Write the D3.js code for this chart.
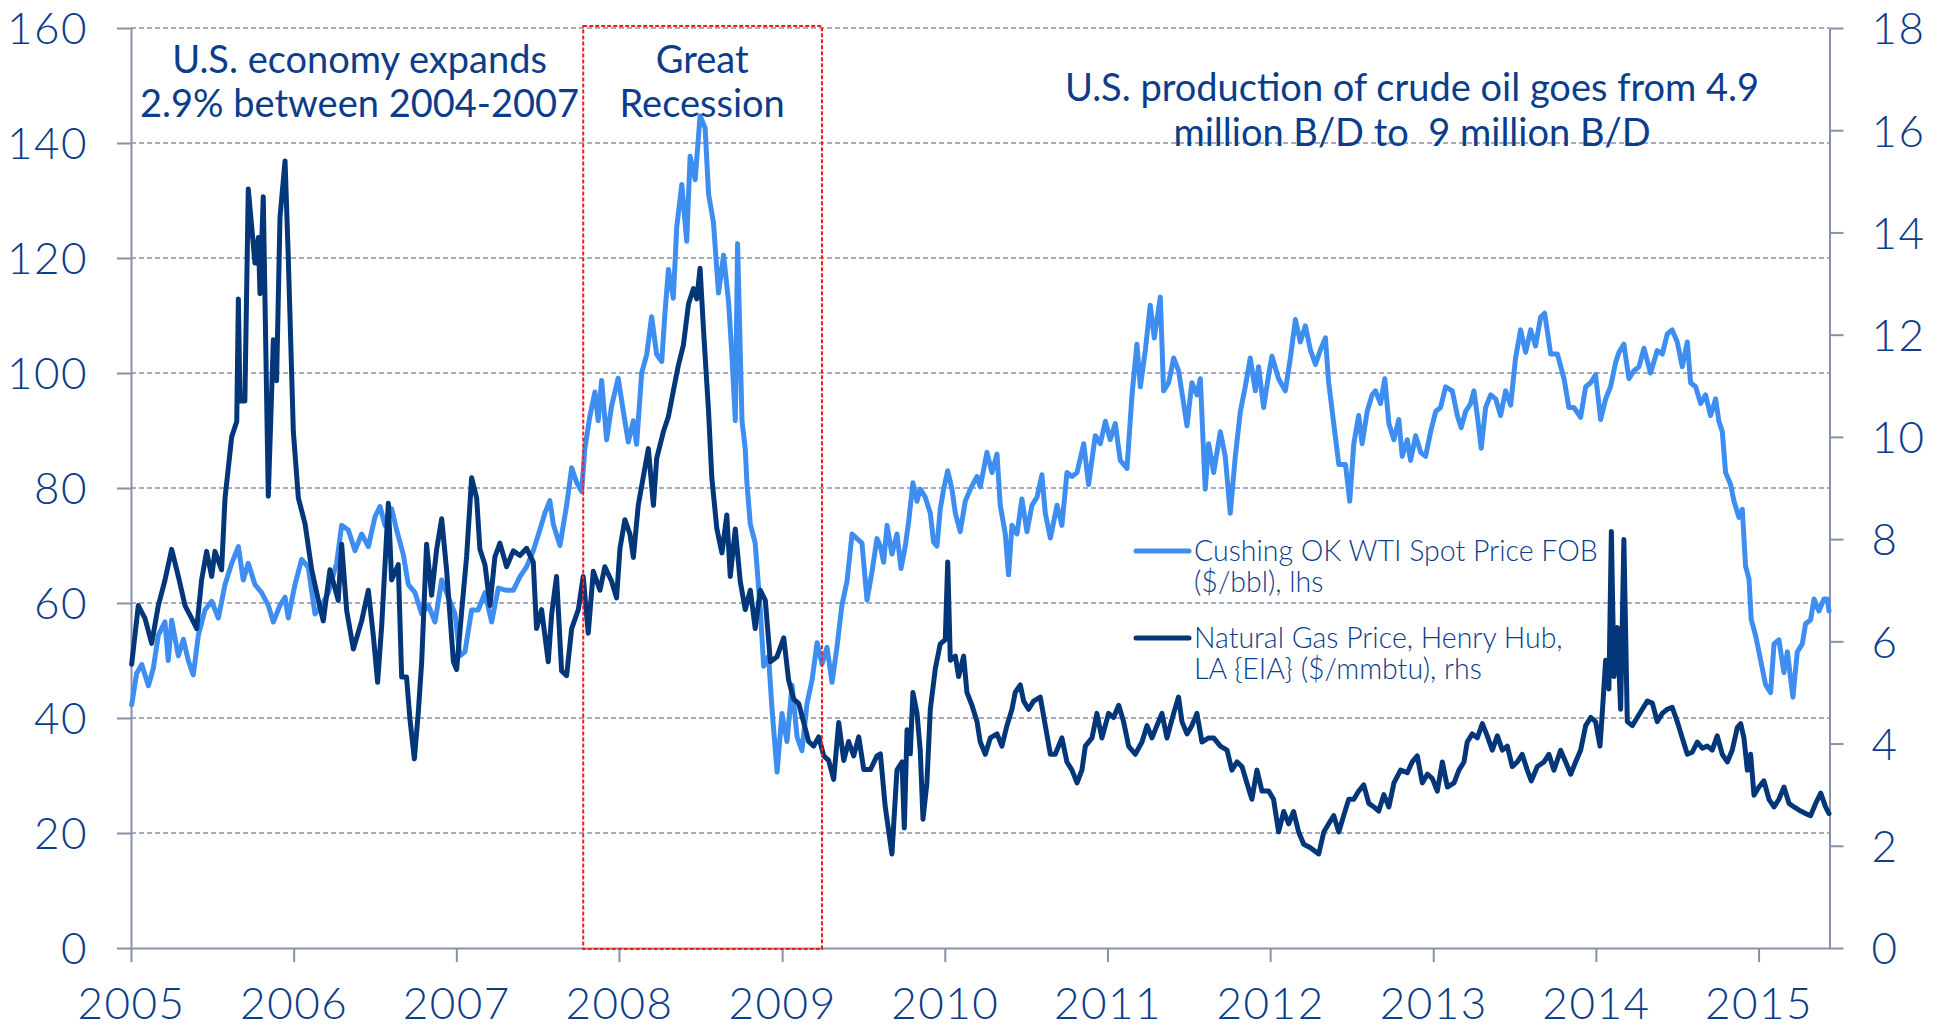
<!DOCTYPE html>
<html>
<head>
<meta charset="utf-8">
<script src="https://cdn.jsdelivr.net/npm/d3@7/dist/d3.min.js"></script>
<style>
  html, body { margin: 0; padding: 0; background: #fff; }
  svg { display: block; }
  text { font-family: Lato, "Open Sans", sans-serif; white-space: pre; }
</style>
</head>
<body>
<svg id="chart" width="1936" height="1026"></svg>
<script>
// WTI spot price, $/bbl (left axis), decimal years
var wtiYears = [2005.004,2005.035,2005.066,2005.107,2005.137,2005.168,2005.209,2005.229,2005.250,2005.291,2005.322,2005.352,2005.383,2005.414,2005.455,2005.496,2005.537,2005.578,2005.619,2005.660,2005.690,2005.721,2005.762,2005.803,2005.844,2005.875,2005.916,2005.947,2005.967,
  2006.008,2006.049,2006.090,2006.131,2006.172,2006.213,2006.264,2006.295,2006.336,2006.377,2006.418,2006.459,2006.500,2006.531,2006.561,2006.602,2006.633,2006.674,2006.705,2006.746,2006.787,2006.828,2006.869,2006.910,2006.951,2006.992,
  2007.022,2007.053,2007.094,2007.135,2007.176,2007.217,2007.258,2007.309,2007.350,2007.391,2007.432,2007.473,2007.514,2007.545,2007.575,2007.596,2007.637,2007.678,2007.709,2007.739,2007.770,2007.790,2007.821,2007.852,2007.872,2007.893,2007.924,2007.954,2007.995,
  2008.026,2008.057,2008.088,2008.108,2008.139,2008.170,2008.200,2008.231,2008.262,2008.282,2008.303,2008.333,2008.354,2008.385,2008.415,2008.436,2008.467,2008.497,2008.528,2008.549,2008.579,2008.610,2008.641,2008.672,2008.692,2008.713,2008.727,2008.754,2008.774,2008.784,2008.805,2008.835,2008.866,2008.887,2008.917,2008.938,2008.969,2008.999,
  2009.030,2009.061,2009.092,2009.122,2009.153,2009.184,2009.215,2009.245,2009.276,2009.307,2009.337,2009.368,2009.399,2009.430,2009.460,2009.491,2009.522,2009.553,2009.583,2009.604,2009.624,2009.645,2009.675,2009.706,2009.731,2009.757,2009.778,2009.804,2009.829,2009.849,2009.880,2009.911,2009.931,2009.952,2009.972,2009.993,
  2010.018,2010.044,2010.065,2010.095,2010.126,2010.157,2010.198,2010.218,2010.259,2010.290,2010.321,2010.341,2010.372,2010.392,2010.413,2010.444,2010.474,2010.505,2010.536,2010.567,2010.597,2010.618,2010.649,2010.690,2010.720,2010.751,2010.782,2010.813,2010.854,2010.884,2010.925,2010.956,2010.987,
  2011.017,2011.048,2011.079,2011.120,2011.151,2011.181,2011.202,2011.233,2011.263,2011.288,2011.325,2011.345,2011.376,2011.407,2011.437,2011.468,2011.489,2011.519,2011.550,2011.571,2011.601,2011.622,2011.653,2011.694,2011.724,2011.755,2011.786,2011.817,2011.847,2011.878,2011.909,2011.929,2011.960,2011.991,
  2012.011,2012.052,2012.093,2012.124,2012.155,2012.185,2012.216,2012.247,2012.278,2012.308,2012.339,2012.359,2012.390,2012.421,2012.462,2012.488,2012.513,2012.543,2012.564,2012.595,2012.625,2012.646,2012.677,2012.703,2012.728,2012.759,2012.789,2012.810,2012.841,2012.861,2012.892,2012.923,2012.953,2012.984,
  2013.015,2013.045,2013.076,2013.117,2013.148,2013.172,2013.199,2013.230,2013.250,2013.271,2013.295,2013.322,2013.353,2013.384,2013.414,2013.445,2013.476,2013.506,2013.537,2013.568,2013.599,2013.629,2013.660,2013.685,2013.722,2013.763,2013.804,2013.834,2013.865,2013.906,2013.937,2013.968,2013.998,
  2014.029,2014.060,2014.090,2014.121,2014.142,2014.172,2014.203,2014.234,2014.265,2014.295,2014.336,2014.377,2014.408,2014.439,2014.469,2014.500,2014.531,2014.562,2014.582,2014.613,2014.644,2014.674,2014.705,2014.736,2014.756,2014.777,2014.797,2014.828,2014.849,2014.879,2014.900,2014.920,2014.941,2014.955,2014.982,
  2015.013,2015.043,2015.074,2015.095,2015.125,2015.156,2015.177,2015.211,2015.238,2015.269,2015.289,2015.320,2015.341,2015.371,2015.402,2015.422,2015.433];
var wtiPrice = [42.3,47.8,49.3,45.6,48.6,54.4,56.7,50.0,57.0,50.8,53.7,50.0,47.5,54.4,58.8,60.3,57.4,63.2,66.9,69.8,64.0,66.9,63.2,61.8,59.6,56.7,59.6,61.0,57.4,
  63.2,67.6,66.2,58.1,59.6,61.8,66.9,73.5,72.7,69.1,72.0,69.8,75.0,76.8,73.5,76.4,72.7,68.4,63.2,61.8,58.1,59.6,56.7,64.0,61.0,58.1,
  50.8,51.5,58.8,58.8,61.8,56.7,62.6,62.2,62.2,64.6,66.3,69.1,72.8,75.7,77.8,73.7,70.0,77.0,83.5,81.0,79.4,86.8,92.5,96.7,91.7,98.7,88.4,94.2,99.1,
  93.4,88.0,91.7,87.6,100.0,103.2,109.8,103.2,102.0,110.6,118.0,113.0,125.4,132.8,122.9,137.7,133.6,144.7,142.6,131.1,126.2,113.9,120.5,112.3,103.2,91.7,122.5,91.7,86.8,81.0,73.7,70.4,58.9,49.0,50.7,41.6,30.6,40.8,
  35.9,45.7,36.7,34.3,42.5,46.6,53.1,49.4,52.3,46.2,52.3,59.7,63.8,72.0,71.2,70.4,60.5,65.5,71.2,69.9,67.1,73.5,68.5,72.0,66.0,69.9,74.2,80.9,77.7,79.8,78.4,75.6,70.6,69.9,76.3,79.8,
  83.0,79.8,75.6,72.4,77.7,79.8,82.0,80.2,86.2,82.7,85.9,77.0,72.0,64.9,73.5,72.0,78.1,72.4,77.0,78.4,82.3,75.6,71.3,77.0,73.5,82.7,82.0,82.7,87.7,80.6,89.1,87.7,91.6,
  88.4,91.2,84.8,83.4,96.2,105.0,97.6,104.0,111.8,106.1,113.2,96.9,98.3,102.6,100.4,94.7,90.8,98.3,96.2,99.0,79.8,87.7,82.7,89.8,85.5,75.6,85.5,93.3,97.6,102.6,96.9,101.1,94.0,99.7,
  102.9,99.0,96.9,102.6,109.3,105.4,108.2,104.0,101.5,104.0,106.1,98.3,91.2,84.1,84.1,77.7,87.7,92.6,87.7,93.3,96.2,96.9,94.7,99.0,91.2,88.4,91.9,85.5,88.4,84.8,89.1,86.2,85.5,89.8,
  93.3,94.0,97.6,96.9,92.6,90.5,93.3,94.7,96.9,92.6,86.9,94.0,96.2,95.5,92.6,96.9,94.4,102.6,107.5,103.6,107.5,104.7,109.7,110.4,103.3,103.3,99.0,94.0,94.0,92.3,97.6,98.3,99.7,
  91.9,95.5,97.6,101.8,103.6,105.0,99.0,100.4,101.1,104.3,100.0,103.9,103.3,106.8,107.5,105.4,101.1,105.4,98.3,97.6,94.7,96.2,92.6,95.5,91.6,89.8,82.7,80.6,77.7,74.9,76.3,66.4,64.2,57.1,54.3,
  50.0,45.8,44.4,52.9,53.6,47.9,51.5,43.6,51.5,52.9,56.4,57.1,60.7,58.6,60.7,60.7,58.6];

// Henry Hub natural gas price, $/mmbtu (right axis), decimal years
var gasYears = [2005.004,2005.045,2005.086,2005.127,2005.168,2005.209,2005.250,2005.291,2005.332,2005.373,2005.404,2005.434,2005.465,2005.496,2005.516,2005.557,2005.578,2005.619,2005.650,2005.660,2005.670,2005.700,2005.721,2005.762,2005.783,2005.793,2005.813,2005.844,2005.875,2005.895,2005.916,2005.947,2005.967,2005.998,
  2006.029,2006.070,2006.111,2006.152,2006.182,2006.223,2006.274,2006.295,2006.326,2006.367,2006.418,2006.459,2006.490,2006.516,2006.541,2006.582,2006.602,2006.643,2006.664,2006.694,2006.715,2006.742,2006.766,2006.787,2006.817,2006.848,2006.879,2006.910,2006.940,2006.982,
  2007.002,2007.033,2007.063,2007.094,2007.125,2007.145,2007.176,2007.207,2007.237,2007.268,2007.309,2007.350,2007.391,2007.432,2007.473,2007.493,2007.524,2007.565,2007.586,2007.616,2007.647,2007.678,2007.709,2007.750,2007.780,2007.811,2007.842,2007.883,2007.913,2007.954,2007.985,
  2008.006,2008.036,2008.067,2008.088,2008.118,2008.149,2008.180,2008.211,2008.231,2008.272,2008.303,2008.333,2008.364,2008.395,2008.426,2008.456,2008.477,2008.497,2008.518,2008.549,2008.569,2008.600,2008.631,2008.661,2008.682,2008.713,2008.743,2008.774,2008.805,2008.835,2008.866,2008.897,2008.928,2008.969,
  2009.010,2009.040,2009.071,2009.102,2009.133,2009.163,2009.194,2009.225,2009.256,2009.286,2009.317,2009.348,2009.379,2009.409,2009.440,2009.471,2009.502,2009.543,2009.583,2009.604,2009.634,2009.675,2009.706,2009.737,2009.751,2009.768,2009.788,2009.804,2009.829,2009.849,2009.866,2009.890,2009.911,2009.942,2009.972,
  2010.003,2010.018,2010.034,2010.065,2010.085,2010.116,2010.136,2010.167,2010.198,2010.218,2010.249,2010.280,2010.321,2010.351,2010.382,2010.413,2010.433,2010.464,2010.485,2010.515,2010.546,2010.587,2010.618,2010.649,2010.679,2010.720,2010.751,2010.782,2010.813,2010.843,2010.864,2010.905,2010.935,2010.966,
  2011.007,2011.038,2011.069,2011.099,2011.130,2011.171,2011.212,2011.243,2011.274,2011.304,2011.335,2011.366,2011.407,2011.437,2011.458,2011.489,2011.519,2011.550,2011.581,2011.622,2011.653,2011.694,2011.735,2011.765,2011.796,2011.827,2011.857,2011.888,2011.919,2011.950,2011.991,
  2012.021,2012.052,2012.083,2012.114,2012.144,2012.175,2012.206,2012.247,2012.298,2012.329,2012.359,2012.390,2012.421,2012.451,2012.482,2012.513,2012.543,2012.574,2012.605,2012.636,2012.666,2012.697,2012.728,2012.759,2012.800,2012.841,2012.871,2012.902,2012.933,2012.964,2012.994,
  2013.025,2013.056,2013.087,2013.128,2013.158,2013.189,2013.209,2013.240,2013.271,2013.302,2013.332,2013.363,2013.394,2013.425,2013.455,2013.486,2013.517,2013.547,2013.578,2013.603,2013.640,2013.681,2013.711,2013.742,2013.783,2013.814,2013.845,2013.875,2013.906,2013.937,2013.968,2013.998,
  2014.025,2014.039,2014.060,2014.080,2014.095,2014.111,2014.131,2014.152,2014.172,2014.193,2014.224,2014.254,2014.285,2014.316,2014.347,2014.377,2014.408,2014.439,2014.469,2014.500,2014.531,2014.562,2014.592,2014.623,2014.654,2014.685,2014.715,2014.746,2014.777,2014.808,2014.838,2014.869,2014.890,2014.910,2014.931,2014.951,2014.972,
  2015.002,2015.033,2015.064,2015.095,2015.125,2015.156,2015.187,2015.218,2015.259,2015.289,2015.320,2015.351,2015.382,2015.412,2015.433];
var gasPrice = [5.55,6.70,6.45,5.96,6.70,7.20,7.80,7.27,6.70,6.45,6.25,7.20,7.76,7.27,7.76,7.40,8.80,10.00,10.30,12.70,10.70,10.70,14.85,13.40,13.90,12.80,14.70,8.84,11.90,11.10,14.30,15.40,13.50,10.10,
  8.80,8.30,7.40,6.80,6.40,7.40,6.80,7.90,6.60,5.85,6.40,7.00,6.10,5.20,6.30,8.70,7.20,7.50,5.30,5.30,4.47,3.70,4.60,5.60,7.90,6.90,7.80,8.40,7.40,5.60,
  5.45,6.60,7.65,9.20,8.80,7.80,7.50,6.70,7.65,7.92,7.46,7.77,7.68,7.82,7.55,6.25,6.62,5.60,6.53,7.27,5.42,5.33,6.25,6.62,7.27,6.16,7.37,7.00,7.46,7.18,6.85,
  7.82,8.38,8.10,7.64,8.66,9.22,9.77,8.66,9.58,10.10,10.40,10.90,11.40,11.80,12.60,12.90,12.70,13.30,12.10,10.50,9.20,8.20,7.73,8.47,7.27,8.20,7.18,6.62,7.00,6.25,7.00,6.80,5.60,5.70,
  6.07,5.24,4.87,4.78,4.41,4.04,3.95,4.13,3.76,3.67,3.30,4.41,3.67,4.04,3.76,4.13,3.49,3.49,3.76,3.80,2.76,1.84,3.48,3.64,2.35,4.27,3.80,5.00,4.60,3.87,2.52,3.23,4.67,5.47,5.95,
  6.03,7.55,5.63,5.71,5.31,5.71,5.00,4.75,4.43,4.03,3.79,4.11,4.19,3.95,4.35,4.67,5.00,5.15,4.83,4.67,4.83,4.91,4.35,3.79,3.79,4.11,3.64,3.48,3.23,3.48,3.95,4.11,4.59,4.11,
  4.59,4.51,4.75,4.43,3.95,3.79,4.03,4.35,4.11,4.35,4.59,4.11,4.59,4.91,4.43,4.19,4.35,4.59,4.03,4.11,4.11,3.95,3.87,3.48,3.64,3.55,3.23,2.91,3.48,3.07,3.07,
  2.91,2.27,2.67,2.43,2.67,2.27,2.03,1.96,1.84,2.27,2.43,2.59,2.27,2.59,2.91,2.91,3.07,3.19,2.83,2.76,2.68,3.00,2.76,3.23,3.48,3.43,3.64,3.76,3.23,3.40,3.32,
  3.07,3.64,3.15,3.23,3.48,3.64,4.03,4.19,4.11,4.39,4.15,3.87,4.15,3.87,3.95,3.55,3.64,3.79,3.48,3.27,3.55,3.64,3.79,3.48,3.87,3.64,3.40,3.64,3.87,4.35,4.51,4.43,
  3.95,4.59,5.63,5.07,8.15,5.31,6.27,4.67,7.99,4.43,4.35,4.51,4.67,4.83,4.79,4.43,4.59,4.67,4.71,4.43,4.11,3.79,3.83,4.03,3.91,3.95,3.87,4.15,3.79,3.64,3.87,4.31,4.39,4.11,3.48,3.79,2.99,
  3.15,3.27,2.91,2.76,2.91,3.15,2.83,2.76,2.68,2.63,2.59,2.83,3.03,2.76,2.63];

var leftTicks = [0, 20, 40, 60, 80, 100, 120, 140, 160];
var rightTicks = [0, 2, 4, 6, 8, 10, 12, 14, 16, 18];
var xStart = 2005, xEnd = 2015.436;
var recession = [2007.78, 2009.245];

var seriesNames = ["Cushing OK WTI Spot Price FOB", "($/bbl), lhs"];
var seriesNames2 = ["Natural Gas Price, Henry Hub,", "LA {EIA} ($/mmbtu), rhs"];
var notes = [
  {lines: ["U.S. economy expands", "2.9% between 2004-2007"], at: 2006.405},
  {lines: ["Great", "Recession"], at: 2008.51},
  {lines: ["U.S. production of crude oil goes from 4.9", "million B/D to  9 million B/D"], at: 2012.87}
];

var lightBlue = "#3d8ef0", navy = "#04367a", textCol = "#0c3d8a", axisCol = "#8a90a9";

function toDate(t) {
  var y = Math.floor(t);
  var a = Date.UTC(y, 0, 1), b = Date.UTC(y + 1, 0, 1);
  return new Date(a + (t - y) * (b - a));
}

var plotL = 131, plotR = 1829.5, plotT = 28, plotB = 948;
var svg = d3.select("#chart");

var x = d3.scaleUtc().domain([toDate(xStart), toDate(xEnd)]).range([plotL, plotR]);
var yL = d3.scaleLinear().domain([0, 160]).range([plotB, plotT]);
var yR = d3.scaleLinear().domain([0, 18]).range([plotB, plotT]);

// grid
svg.append("g").selectAll("line")
  .data(leftTicks.filter(function(d) { return d > 0; }))
  .enter().append("line")
  .attr("x1", plotL).attr("x2", plotR)
  .attr("y1", function(d) { return yL(d); })
  .attr("y2", function(d) { return yL(d); })
  .attr("stroke", axisCol).attr("stroke-width", 1.6)
  .attr("stroke-dasharray", "5,3");

function styleAxis(g) {
  g.select(".domain").attr("stroke", axisCol).attr("stroke-width", 2);
  g.selectAll(".tick line").attr("stroke", axisCol).attr("stroke-width", 2);
  g.selectAll(".tick text").attr("fill", textCol)
    .style("font-size", "44px").style("font-weight", 300)
    .style("letter-spacing", "1.5px")
    .style("font-family", "Lato, sans-serif");
}

var gx = svg.append("g").attr("transform", "translate(0," + plotB + ")")
  .call(d3.axisBottom(x).ticks(d3.utcYear.every(1)).tickFormat(d3.utcFormat("%Y")).tickSize(14).tickSizeOuter(0));
styleAxis(gx);
gx.selectAll(".tick text").attr("y", 71).attr("dy", 0);

var gl = svg.append("g").attr("transform", "translate(" + plotL + ",0)")
  .call(d3.axisLeft(yL).tickValues(leftTicks).tickSize(14).tickSizeOuter(0).tickPadding(29));
styleAxis(gl);
gl.selectAll(".tick text").attr("dy", "0.36em");

var gr = svg.append("g").attr("transform", "translate(" + plotR + ",0)")
  .call(d3.axisRight(yR).tickValues(rightTicks).tickSize(14).tickSizeOuter(0).tickPadding(28));
styleAxis(gr);
gr.selectAll(".tick text").attr("dy", "0.36em");

// series
var wti = wtiYears.map(function(t, i) { return {date: toDate(t), v: wtiPrice[i]}; });
var gas = gasYears.map(function(t, i) { return {date: toDate(t), v: gasPrice[i]}; });

var lineL = d3.line().x(function(d) { return x(d.date); }).y(function(d) { return yL(d.v); });
var lineR = d3.line().x(function(d) { return x(d.date); }).y(function(d) { return yR(d.v); });

svg.append("path").datum(wti).attr("d", lineL)
  .attr("fill", "none").attr("stroke", lightBlue).attr("stroke-width", 5)
  .attr("stroke-linejoin", "round").attr("stroke-linecap", "round");
svg.append("path").datum(gas).attr("d", lineR)
  .attr("fill", "none").attr("stroke", navy).attr("stroke-width", 5)
  .attr("stroke-linejoin", "round").attr("stroke-linecap", "round");

// recession box
svg.append("rect")
  .attr("x", x(toDate(recession[0]))).attr("y", plotT - 2)
  .attr("width", x(toDate(recession[1])) - x(toDate(recession[0])))
  .attr("height", plotB - plotT + 3)
  .attr("fill", "none").attr("stroke", "#ff1a1a").attr("stroke-width", 2)
  .attr("stroke-dasharray", "4,2");

// annotations
notes.forEach(function(n, k) {
  var base = k == 2 ? 101 : 73;
  var gap = k == 2 ? 45 : 44;
  n.lines.forEach(function(s, i) {
    svg.append("text")
      .attr("x", x(toDate(n.at))).attr("y", base + i * gap)
      .attr("text-anchor", "middle")
      .attr("fill", textCol)
      .style("font-size", "38px")
      .text(s);
  });
});

// legend
var legend = [
  {color: lightBlue, y: 551, lines: seriesNames},
  {color: navy, y: 638, lines: seriesNames2}
];
legend.forEach(function(l) {
  svg.append("line").attr("x1", 1136).attr("x2", 1189)
    .attr("y1", l.y).attr("y2", l.y)
    .attr("stroke", l.color).attr("stroke-width", 5).attr("stroke-linecap", "round");
  l.lines.forEach(function(s, i) {
    svg.append("text").attr("x", 1194).attr("y", l.y + 10 + i * 31)
      .attr("fill", textCol).style("font-size", "28.5px").style("font-weight", 300)
      .text(s);
  });
});
</script>
</body>
</html>
